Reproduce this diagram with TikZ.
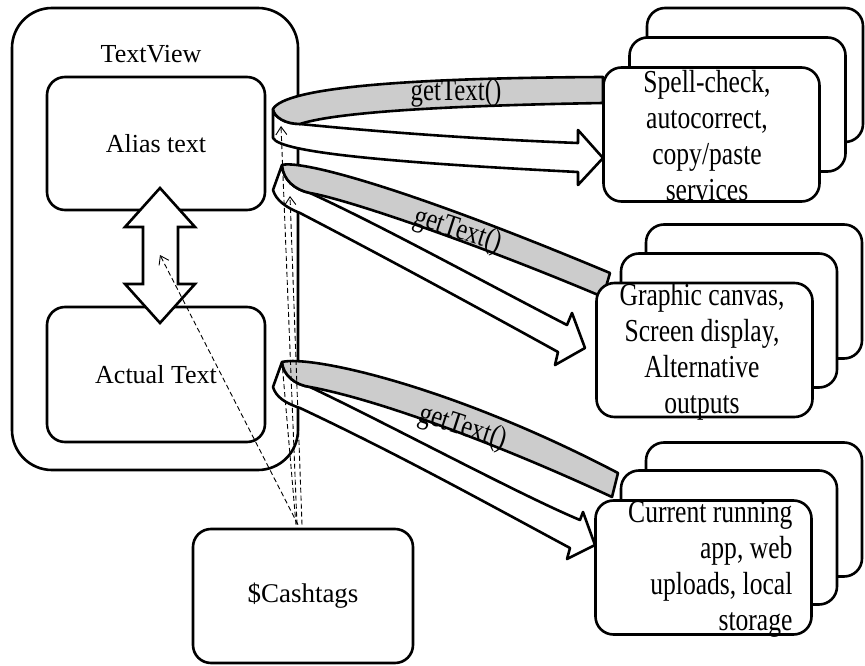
\documentclass[tikz,border=0pt]{standalone}
\usepackage{fontspec}
\setmainfont{Liberation Serif}
\newfontfamily\tallfont[FakeStretch=0.8]{Liberation Serif}
\usetikzlibrary{arrows.meta}

\begin{document}
\begin{tikzpicture}[x=1pt, y=-1pt,
  box/.style={draw, line width=2.6pt, rounded corners=18pt, fill=white, inner sep=0pt},
  card/.style={box, minimum width=216pt, minimum height=134pt},
  lbl/.style={font=\fontsize{26}{30}\selectfont},
  cardtxt/.style={align=center, font=\tallfont\fontsize{32}{36}\selectfont},
  band/.style={draw, line width=2.6pt, line join=round, fill=white},
  shade/.style={band, fill=black!20},
  block/.style={draw, line width=2.6pt, fill=white},
  gettxt/.style={font=\tallfont\fontsize{31}{34}\selectfont},
  link/.style={line width=0.9pt, dash pattern=on 5pt off 3pt},
  tip/.style={-{Straight Barb[length=8pt,width=11pt,line width=0.9pt]}}
]
\useasboundingbox (0,0) rectangle (865,666);

% TextView and its two texts
\node[box, rounded corners=40pt, minimum width=286pt, minimum height=462pt] (view) at (155,239) {};
\node[lbl] (viewlbl) at (151,54) {TextView};
\node[box, lbl, minimum width=218pt, minimum height=133pt] (alias) at (156,143.5) {Alias text};
\node[box, lbl, minimum width=218pt, minimum height=135pt] (actual) at (156,374.5) {Actual Text};
\draw[block] (160,188) -- (195,227) -- (178,227) -- (178,284) -- (195,284) -- (160,323)
  -- (125,284) -- (143,284) -- (143,227) -- (125,227) -- cycle;

\node[box, minimum width=220pt, minimum height=134pt, font=\fontsize{27}{31}\selectfont] (cash) at (303,596) {\$Cashtags};

% ribbon arrows
\draw[band] (273,109) -- (273,138) .. controls (280,153) and (400,163) .. (578,172)
  -- (578,185) -- (603,158) -- (578,130) -- (578,143)
  .. controls (500,140) and (400,134) .. (300,124)
  .. controls (285,124) and (274,117) .. (273,109) -- cycle;
\draw[shade] (273,109) .. controls (285,88) and (400,78) .. (603,77) -- (603,103)
  .. controls (420,106) and (330,114) .. (300,124)
  .. controls (285,124) and (274,117) .. (273,109) -- cycle;
\node[gettxt] (get1) at (456,93) {getText()};

\draw[band] (282,165) -- (273,190) .. controls (276,200) and (285,207) .. (300,213)
  .. controls (400,265) and (500,320) .. (558,352)
  -- (555,365) -- (585,348) -- (572,313) -- (567,325)
  .. controls (480,280) and (380,225) .. (310,193)
  .. controls (295,190) and (283,180) .. (282,165) -- cycle;
\draw[shade] (282,165) .. controls (300,160) and (400,185) .. (610,273) -- (603,297)
  .. controls (480,245) and (350,200) .. (310,193)
  .. controls (295,190) and (283,180) .. (282,165) -- cycle;
\node[gettxt, rotate=-18] (get2) at (458,231) {getText()};

\draw[band] (282,362) -- (273,387) .. controls (276,397) and (285,403) .. (300,408)
  .. controls (400,455) and (490,505) .. (570,548)
  -- (567,559) -- (595,545) -- (583,512) -- (580,520)
  .. controls (520,495) and (390,425) .. (310,387)
  .. controls (295,385) and (283,375) .. (282,362) -- cycle;
\draw[shade] (282,362) .. controls (310,355) and (450,385) .. (618,473) -- (612,497)
  .. controls (500,445) and (380,400) .. (310,387)
  .. controls (295,385) and (283,375) .. (282,362) -- cycle;
\node[gettxt, rotate=-18] (get3) at (463,428) {getText()};

% target stacks
\node[card] (spellC) at (755,75) {};
\node[card] (spellB) at (737.5,104.5) {};
\node[card] (spellA) at (711.5,134.5) {};
\node[cardtxt] (spelltxt) at (707,136) {Spell-check,\\autocorrect,\\copy/paste\\services};

\node[card] (canvasC) at (754,291.5) {};
\node[card] (canvasB) at (729,320.5) {};
\node[card] (canvasA) at (704.5,350) {};
\node[cardtxt] (canvastxt) at (702,352) {Graphic canvas,\\Screen display,\\Alternative\\outputs};

\node[card] (appC) at (754,509.5) {};
\node[card] (appB) at (729,537.5) {};
\node[card] (appA) at (703.5,567.5) {};
\node[cardtxt, align=right, anchor=east] (apptxt) at (796,569) {Current running\\app, web\\uploads, local\\storage};

% cashtag links
\coordinate (hitA) at (281,126);
\coordinate (hitB) at (290,196);
\coordinate (hitC) at (160,255);
\coordinate (hitD) at (282,362);
\draw[link, tip] ([xshift=-6pt,yshift=3pt]cash.north) -- (hitA);
\draw[link, tip] ([xshift=-1pt,yshift=3pt]cash.north) -- (hitB);
\draw[link, tip] ([xshift=-5pt,yshift=3pt]cash.north) -- (hitC);
\draw[link] ([xshift=-7pt,yshift=3pt]cash.north) -- (hitD);
\end{tikzpicture}
\end{document}
